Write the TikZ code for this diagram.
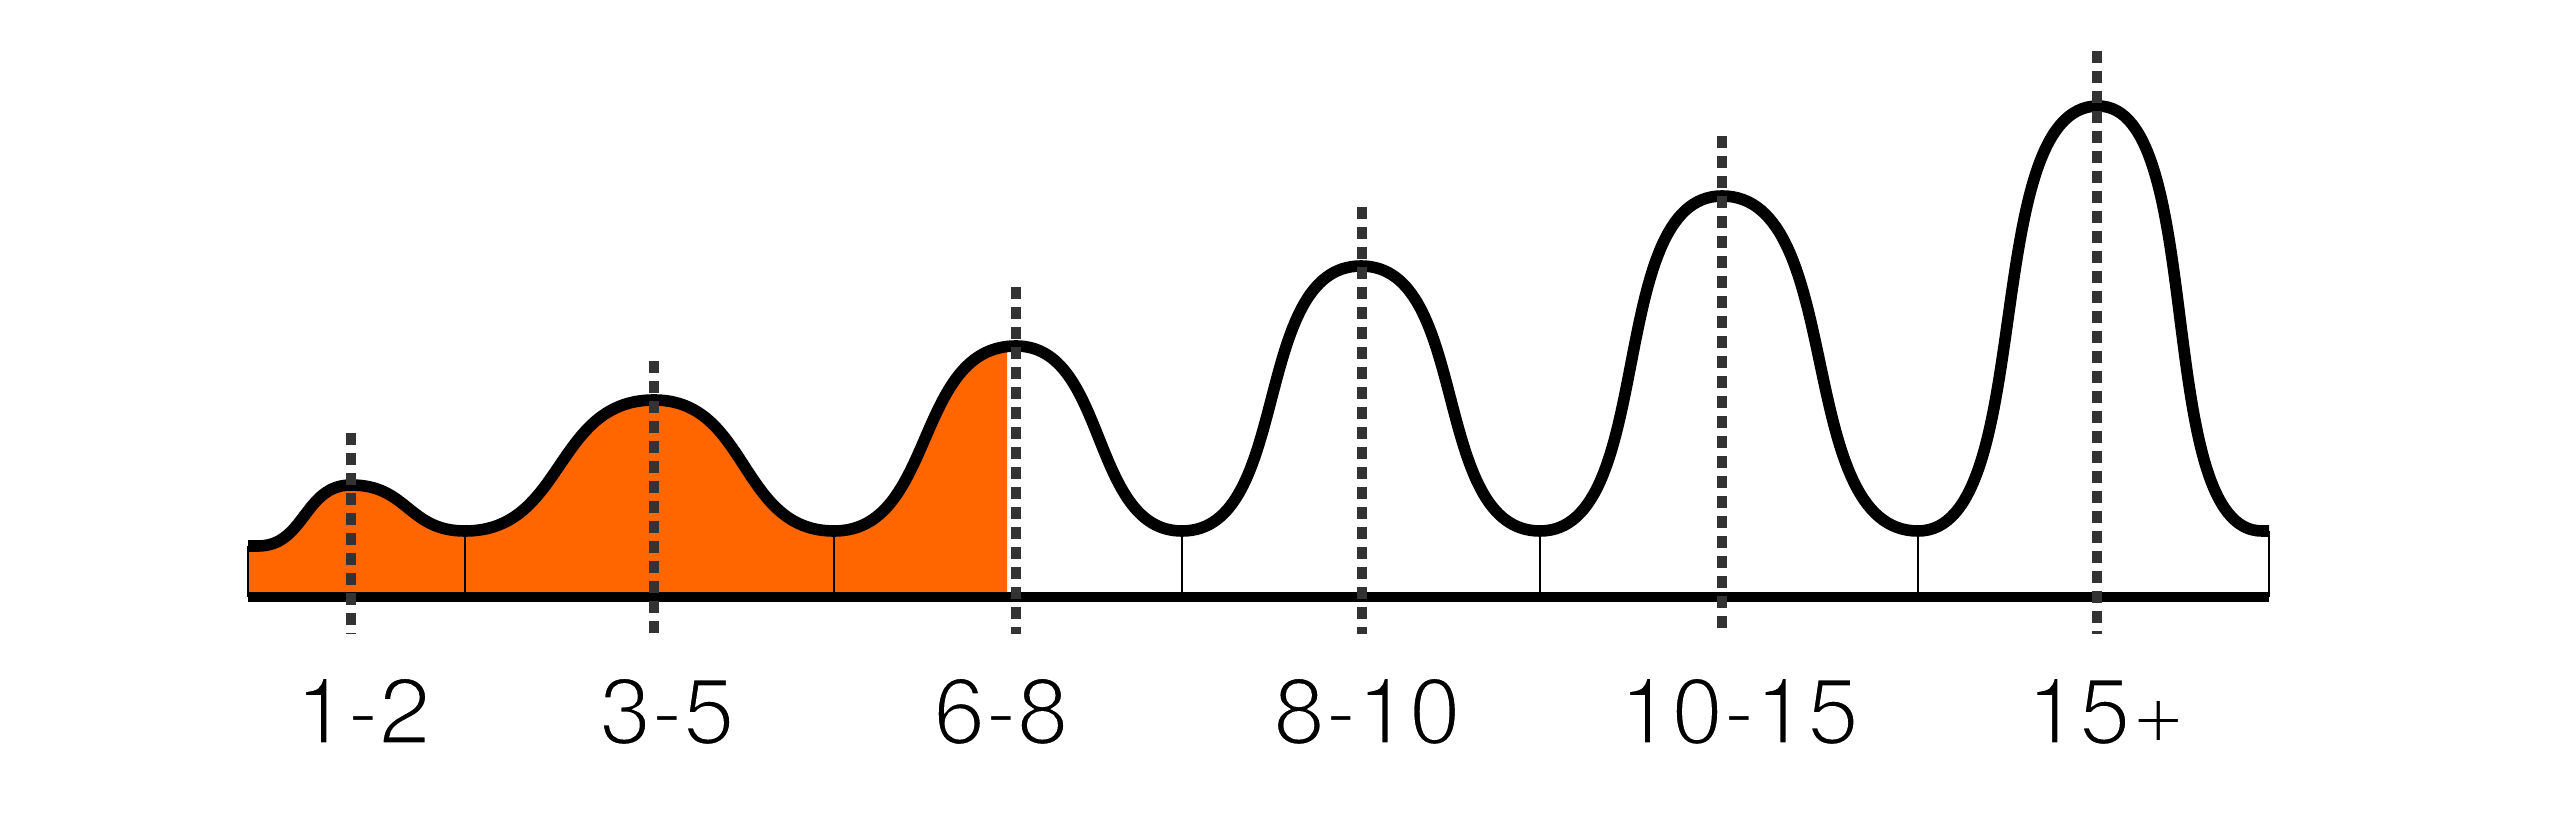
\documentclass[tikz,border=0pt]{standalone}
\usepackage{fontspec}
\setmainfont{TeX Gyre Heros}
\definecolor{fillorange}{RGB}{255,102,0}
\definecolor{dashgray}{RGB}{51,51,51}
\newcommand\litetext[1]{\special{pdf:literal direct 2 Tr 1 1 1 RG 0.85 w}#1\special{pdf:literal direct 0 Tr 0 0 0 RG}}
\begin{document}
\begin{tikzpicture}[x=0.01cm,y=-0.01cm,
  curveline/.style={line width=3.3pt, line join=round},
  baseline/.style={line width=3.0pt},
  tickline/.style={line width=0.6pt},
  peakline/.style={draw=dashgray, line width=3.05pt, dash pattern=on 0.12cm off 0.08cm},
  lab/.style={anchor=base, inner sep=0pt, font=\fontsize{26.7}{30}\selectfont}]
\useasboundingbox[fill=white] (0,0) rectangle (2560,825);
% curve key points
\coordinate (s0) at (248,546);
\coordinate (s1) at (258,546);
\coordinate (p1) at (351,485);
\coordinate (t1) at (465,531);
\coordinate (p2) at (654,400);
\coordinate (t2) at (834,531);
\coordinate (p3) at (1016,346);
\coordinate (t3) at (1182,531);
\coordinate (p4) at (1361,266);
\coordinate (t4) at (1540,531);
\coordinate (p5) at (1722,196);
\coordinate (t5) at (1918,531);
\coordinate (p6) at (2098,106);
\coordinate (e1) at (2262,531);
\coordinate (e0) at (2269,531);
% baseline points
\coordinate (b0) at (248,597);
\coordinate (bt1) at (465,597);
\coordinate (bt2) at (834,597);
\coordinate (bt3) at (1182,597);
\coordinate (bt4) at (1540,597);
\coordinate (bt5) at (1918,597);
\coordinate (b1) at (2269,597);
\def\wave{(s0) -- (s1)
  .. controls +(47,0) and +(-47,0) .. (p1)
  .. controls +(57,0) and +(-57,0) .. (t1)
  .. controls +(100,0) and +(-100,0) .. (p2)
  .. controls +(95,0) and +(-95,0) .. (t2)
  .. controls +(102,0) and +(-102,0) .. (p3)
  .. controls +(92,0) and +(-92,0) .. (t3)
  .. controls +(110,0) and +(-110,0) .. (p4)
  .. controls +(110,0) and +(-110,0) .. (t4)
  .. controls +(117,0) and +(-117,0) .. (p5)
  .. controls +(125,0) and +(-125,0) .. (t5)
  .. controls +(120,0) and +(-120,0) .. (p6)
  .. controls +(110,0) and +(-110,0) .. (e1) -- (e0)}
% orange fill
\begin{scope}
  \clip (248,0) rectangle (1007,597);
  \fill[fillorange] \wave -- (b1) -- (b0) -- cycle;
\end{scope}
% ticks
\draw[tickline] (s0) -- (b0);
\draw[tickline] (t1) -- (bt1);
\draw[tickline] (t2) -- (bt2);
\draw[tickline] (t3) -- (bt3);
\draw[tickline] (t4) -- (bt4);
\draw[tickline] (t5) -- (bt5);
\draw[tickline] (e0) -- (b1);
% baseline
\draw[baseline] (b0) -- (b1);
% curve
\draw[curveline] \wave;
% dashed peak lines
\coordinate (d1t) at (351,433); \coordinate (d1b) at (351,634);
\coordinate (d2t) at (654,361); \coordinate (d2b) at (654,634);
\coordinate (d3t) at (1016,287); \coordinate (d3b) at (1016,634);
\coordinate (d4t) at (1362,207); \coordinate (d4b) at (1362,634);
\coordinate (d5t) at (1722,136); \coordinate (d5b) at (1722,634);
\coordinate (d6t) at (2097,51); \coordinate (d6b) at (2097,634);
\foreach \i in {1,...,6} {\draw[peakline] (d\i t) -- (d\i b);}
% labels
\node[lab] (l1) at (363,744) {\litetext{1-2}};
\node[lab] (l2) at (667,744) {\litetext{3-5}};
\node[lab] (l3) at (1001,744) {\litetext{6-8}};
\node[lab] (l4) at (1367,744) {\litetext{8-10}};
\node[lab] (l5) at (1739,744) {\litetext{10-15}};
\node[lab] (l6) at (2106,744) {\litetext{15+}};
\end{tikzpicture}
\end{document}
